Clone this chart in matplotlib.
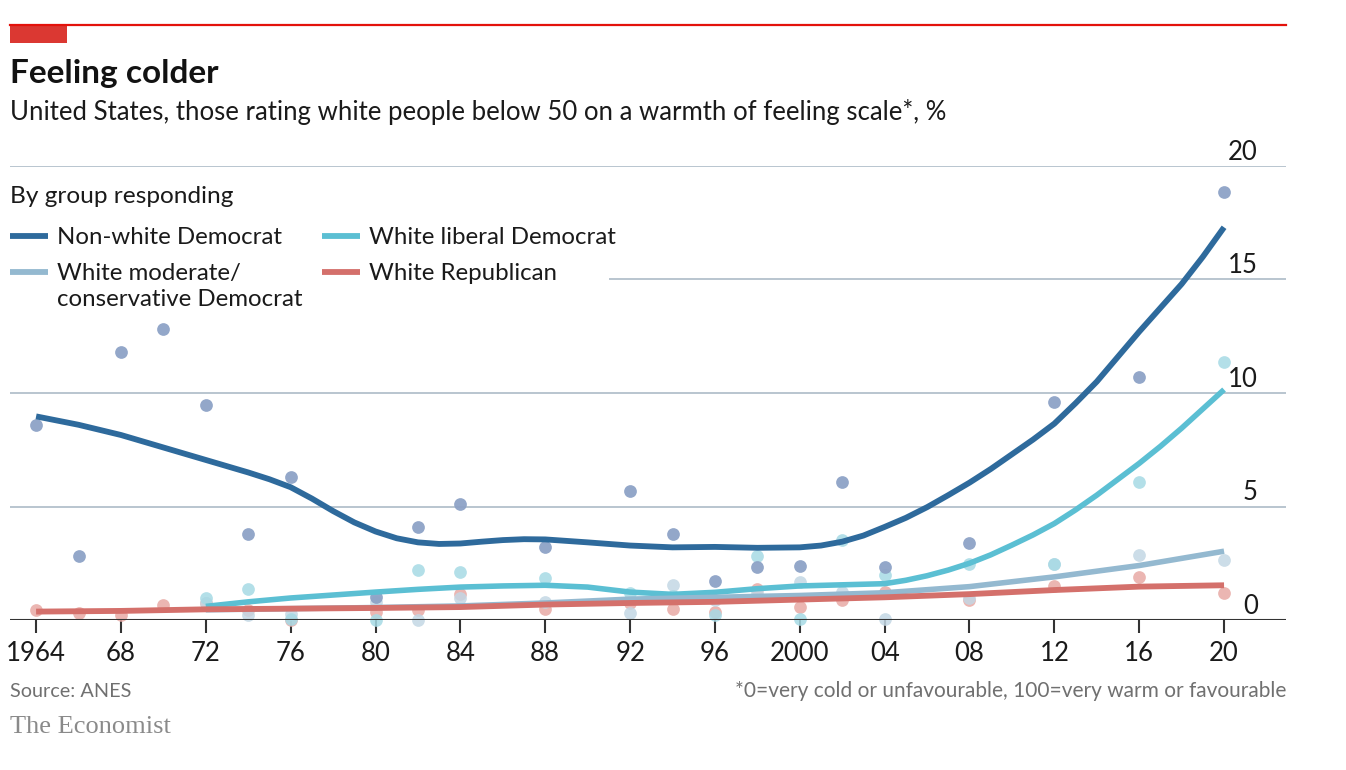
import matplotlib
matplotlib.use('Agg')
import matplotlib.pyplot as plt
from matplotlib.lines import Line2D
from matplotlib.patches import Rectangle

W, H = 1346, 770
plt.rcParams['font.family'] = ['Lato', 'DejaVu Sans']

# dots (survey values)
nw_years = [1964, 1966, 1968, 1970, 1972, 1974, 1976, 1980, 1982, 1984, 1988, 1992, 1994,
            1996, 1998, 2000, 2002, 2004, 2008, 2012, 2016, 2020]
nw_vals = [8.6, 2.8, 11.8, 12.8, 9.45, 3.8, 6.3, 1.03, 4.1, 5.1, 3.2, 5.7, 3.8,
           1.71, 2.33, 2.37, 6.1, 2.33, 3.38, 9.6, 10.7, 18.85]

lib_years = [1972, 1974, 1976, 1980, 1982, 1984, 1988, 1992, 1994, 1996, 1998, 2000,
             2002, 2004, 2008, 2012, 2016, 2020]
lib_vals = [0.97, 1.36, 0.05, 0.0, 2.2, 2.12, 1.84, 1.2, 1.05, 0.22, 2.81, 0.04,
            3.52, 1.98, 2.45, 2.46, 6.07, 11.35]

mod_years = [1972, 1974, 1976, 1980, 1982, 1984, 1988, 1992, 1994, 1996, 1998, 2000,
             2002, 2004, 2008, 2012, 2016, 2020]
mod_vals = [0.75, 0.22, 0.26, 0.8, 0.0, 0.97, 0.8, 0.3, 1.54, 0.9, 1.2, 1.68,
            1.25, 0.04, 0.95, 2.46, 2.86, 2.64]

rep_years = [1964, 1966, 1968, 1970, 1972, 1974, 1976, 1980, 1982, 1984, 1988, 1992,
             1994, 1996, 1998, 2000, 2002, 2004, 2008, 2012, 2016, 2020]
rep_vals = [0.44, 0.3, 0.22, 0.66, 0.75, 0.44, 0.0, 0.37, 0.44, 1.14, 0.48, 0.73,
            0.48, 0.36, 1.36, 0.57, 0.88, 1.25, 0.88, 1.51, 1.9, 1.19]

# trend lines
nw_line_x = [1964, 1966, 1968, 1970, 1972, 1974, 1975, 1976, 1977, 1978, 1979, 1980, 1981,
             1982, 1983, 1984, 1985, 1986, 1987, 1988, 1990, 1992, 1994, 1996, 1998, 2000,
             2001, 2002, 2003, 2004, 2005, 2006, 2007, 2008, 2009, 2010, 2011, 2012, 2013,
             2014, 2015, 2016, 2017, 2018, 2019, 2020]
nw_line_y = [8.97, 8.6, 8.15, 7.6, 7.05, 6.5, 6.2, 5.85, 5.35, 4.8, 4.3, 3.9, 3.6,
             3.42, 3.35, 3.37, 3.45, 3.52, 3.56, 3.55, 3.42, 3.28, 3.2, 3.22, 3.18, 3.2,
             3.28, 3.45, 3.72, 4.1, 4.5, 4.97, 5.5, 6.05, 6.65, 7.3, 7.95, 8.65, 9.55,
             10.5, 11.6, 12.7, 13.75, 14.8, 16.0, 17.3]
lib_line_x = [1972, 1974, 1976, 1978, 1980, 1982, 1984, 1986, 1988, 1990, 1992, 1994, 1996,
              1998, 2000, 2002, 2004, 2005, 2006, 2007, 2008, 2009, 2010, 2011, 2012, 2013,
              2014, 2015, 2016, 2017, 2018, 2019, 2020]
lib_line_y = [0.6, 0.8, 0.97, 1.1, 1.23, 1.35, 1.45, 1.5, 1.53, 1.45, 1.23, 1.13, 1.22,
              1.38, 1.5, 1.55, 1.6, 1.75, 1.95, 2.2, 2.5, 2.87, 3.3, 3.75, 4.25, 4.85,
              5.5, 6.2, 6.9, 7.65, 8.45, 9.3, 10.15]
mod_line_x = [1972, 1976, 1980, 1984, 1988, 1992, 1996, 2000, 2004, 2008, 2012, 2016, 2020]
mod_line_y = [0.45, 0.5, 0.55, 0.62, 0.75, 0.92, 1.0, 1.08, 1.2, 1.47, 1.9, 2.4, 3.03]
rep_line_x = [1964, 1968, 1972, 1976, 1980, 1984, 1988, 1992, 1996, 2000, 2004, 2008, 2012,
              2016, 2020]
rep_line_y = [0.37, 0.4, 0.47, 0.5, 0.53, 0.57, 0.68, 0.75, 0.8, 0.9, 1.0, 1.14, 1.32,
              1.47, 1.53]

xticks = list(range(1964, 2021, 4))
xlabels = ['1964', '68', '72', '76', '80', '84', '88', '92', '96', '2000', '04', '08',
           '12', '16', '20']
yticks = [0, 5, 10, 15, 20]

c_nw, c_lib, c_mod, c_rep = '#2e6a9c', '#5bbfd3', '#94b9d0', '#d4706b'
d_nw, d_lib, d_mod, d_rep = '#8da2c6', '#a6dae5', '#c3d7e4', '#e8aaa5'

def fx(px):
    return px / W

def fy(py):
    return 1 - py / H

fig = plt.figure(figsize=(W / 100, H / 100), dpi=100)
ax = fig.add_axes([fx(10), fy(620), fx(1276), (620 - 166) / H])
ax.set_xlim(1962.77, 2022.92)
ax.set_ylim(0, 20)

for v in yticks[1:]:
    xmin = 0.47 if v == 15 else 0
    ax.axhline(v, xmin=xmin, color='#b9c5cf', lw=1.4, zorder=1)
ax.axhline(0, color='#333333', lw=1.5, zorder=6)

dot = 84
ax.scatter(rep_years, rep_vals, s=dot, color=d_rep, alpha=0.85, lw=0, zorder=2, clip_on=False)
ax.scatter(mod_years, mod_vals, s=dot, color=d_mod, alpha=0.85, lw=0, zorder=2, clip_on=False)
ax.scatter(lib_years, lib_vals, s=dot, color=d_lib, alpha=0.85, lw=0, zorder=2, clip_on=False)
ax.scatter(nw_years, nw_vals, s=dot, color=d_nw, alpha=0.95, lw=0, zorder=2, clip_on=False)

ax.plot(nw_line_x, nw_line_y, color=c_nw, lw=4.2, zorder=4, solid_capstyle='butt')
ax.plot(lib_line_x, lib_line_y, color=c_lib, lw=4.0, zorder=4, solid_capstyle='butt')
ax.plot(mod_line_x, mod_line_y, color=c_mod, lw=4.0, zorder=4, solid_capstyle='butt')
ax.plot(rep_line_x, rep_line_y, color=c_rep, lw=4.2, zorder=5, solid_capstyle='butt')

for s in ax.spines.values():
    s.set_visible(False)
ax.set_yticks([])
ax.set_xticks(xticks)
ax.set_xticklabels(xlabels, fontsize=18.5, color='#1a1a1a')
ax.tick_params(axis='x', length=9, width=1.5, color='#333333', pad=6)

for v in yticks:
    ax.text(2021.6, v + 0.05, str(v), ha='right', va='bottom', fontsize=18.5, color='#1a1a1a')

# header
fig.add_artist(Line2D([fx(10), fx(1286)], [fy(25), fy(25)], color='#e3120b', lw=1.6))
fig.add_artist(Rectangle((fx(10), fy(43)), fx(57), 18 / H, color='#db3832', lw=0))
fig.text(fx(10), fy(83), 'Feeling colder', fontsize=24, fontweight='bold', color='#121212')
fig.text(fx(10), fy(120), 'United States, those rating white people below 50 on a warmth of feeling scale*, %',
         fontsize=18.5, color='#1a1a1a')

# legend
fig.text(fx(10), fy(203), 'By group responding', fontsize=17.6, color='#1a1a1a')
legend = [(10, 236, c_nw, 'Non-white Democrat'),
          (322, 236, c_lib, 'White liberal Democrat'),
          (10, 272, c_mod, 'White moderate/\nconservative Democrat'),
          (322, 272, c_rep, 'White Republican')]
for x0, y0, col, lab in legend:
    fig.add_artist(Line2D([fx(x0), fx(x0 + 38)], [fy(y0), fy(y0)], color=col, lw=4.2,
                          solid_capstyle='butt'))
    fig.text(fx(x0 + 47), fy(y0 - 9), lab, fontsize=17.3, color='#1a1a1a', va='top',
             linespacing=1.32)

# footer
fig.text(fx(10), fy(697), 'Source: ANES', fontsize=14.3, color='#707070')
fig.text(fx(1286), fy(697), '*0=very cold or unfavourable, 100=very warm or favourable',
         fontsize=15, color='#707070', ha='right')
fig.text(fx(10), fy(733), 'The Economist', fontsize=19, color='#8a8a8a', family='Liberation Serif')

fig.savefig('out.png', dpi=100)
